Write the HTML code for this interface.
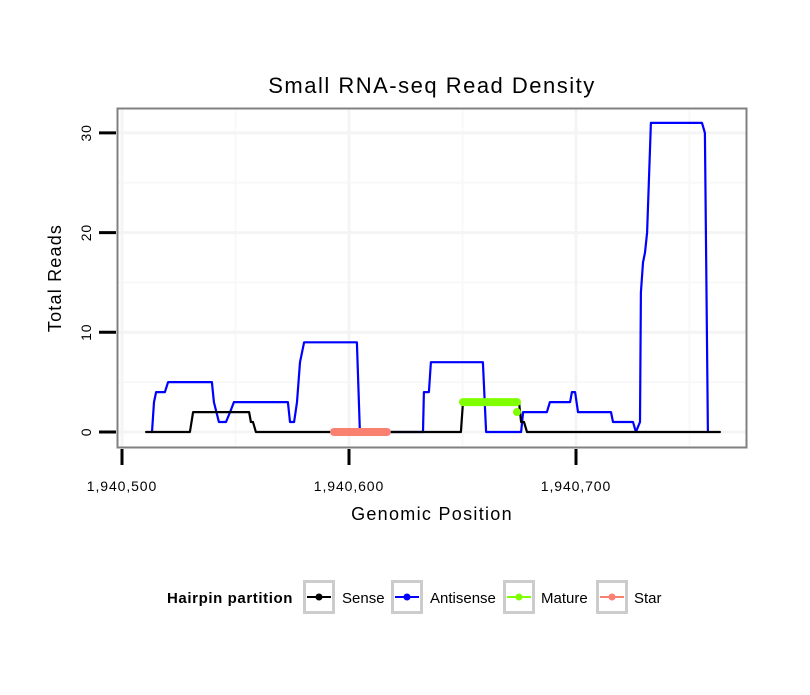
<!DOCTYPE html>
<html><head><meta charset="utf-8"><style>
body{margin:0;background:#fff;}
svg text{font-family:"Liberation Sans",sans-serif;}
</style></head><body>
<svg id="chart" width="810" height="690" xmlns="http://www.w3.org/2000/svg">
<rect width="810" height="690" fill="#fff"/>
<text x="432" y="93" font-size="22" letter-spacing="1.5" text-anchor="middle">Small RNA-seq Read Density</text>
<g id="grid"></g>
<g id="series"></g>
<rect x="117.5" y="108.5" width="629" height="339" fill="none" stroke="#808080" stroke-width="2"/>
<g id="axes"></g>
<text x="432" y="520" font-size="18" letter-spacing="1.3" text-anchor="middle">Genomic Position</text>
<text transform="translate(61,278) rotate(-90)" font-size="18" letter-spacing="1.2" text-anchor="middle">Total Reads</text>
<g>
<text x="167" y="603" font-size="15" letter-spacing="0.6" font-weight="bold">Hairpin partition</text>
<g><rect x="304.5" y="581.5" width="29" height="31" fill="#fff" stroke="#ccc" stroke-width="3"/><line x1="307" x2="331" y1="597" y2="597" stroke="#000" stroke-width="2"/><circle cx="319" cy="597" r="3.5" fill="#000"/><text x="342" y="603" font-size="15">Sense</text></g>
<g><rect x="392.5" y="581.5" width="29" height="31" fill="#fff" stroke="#ccc" stroke-width="3"/><line x1="395" x2="419" y1="597" y2="597" stroke="#0000ff" stroke-width="2"/><circle cx="407" cy="597" r="3.5" fill="#0000ff"/><text x="430" y="603" font-size="15">Antisense</text></g>
<g><rect x="504.5" y="581.5" width="29" height="31" fill="#fff" stroke="#ccc" stroke-width="3"/><line x1="507" x2="531" y1="597" y2="597" stroke="#7fff00" stroke-width="2"/><circle cx="519" cy="597" r="3.5" fill="#7fff00"/><text x="541" y="603" font-size="15">Mature</text></g>
<g><rect x="597.5" y="581.5" width="29" height="31" fill="#fff" stroke="#ccc" stroke-width="3"/><line x1="600" x2="624" y1="597" y2="597" stroke="#fa8072" stroke-width="2"/><circle cx="612" cy="597" r="3.5" fill="#fa8072"/><text x="634" y="603" font-size="15">Star</text></g>
</g>
</svg>
<script>
const xTicks = [1940500, 1940600, 1940700];
const xTickLabels = ["1,940,500", "1,940,600", "1,940,700"];
const yTicks = [0, 10, 20, 30];
const antisensePos = [1940513.2,1940514.1,1940515,1940518.9,1940520.3,1940539.6,1940540.5,1940542.7,1940545.8,1940547.6,1940549.3,1940573.1,1940574,1940575.8,1940577.1,1940578.4,1940580.2,1940603.5,1940604.8,1940632.6,1940633,1940635.2,1940636.1,1940659,1940660.4,1940675.8,1940676.7,1940687.2,1940688.5,1940697.4,1940698.2,1940699.6,1940700.9,1940715.4,1940716.3,1940725.1,1940726.4,1940728.2,1940728.6,1940729.5,1940730.4,1940731.3,1940733,1940755.5,1940756.8,1940758.1];
const antisenseVal = [0,3,4,4,5,5,3,1,1,2,3,3,1,1,3,7,9,9,0,0,4,4,7,7,0,0,2,2,3,3,4,4,2,2,1,1,0,1,14,17,18,20,31,31,30,0];
const sensePos = [1940510.6,1940529.9,1940531.3,1940556,1940556.8,1940557.7,1940559,1940649.3,1940650.2,1940674.9,1940675.8,1940677.1,1940678.4,1940763.4];
const senseVal = [0,0,2,2,1,1,0,0,3,3,1,1,0,0];
const maturePos = [1940650.2,1940674];
const matureVal = [3,3];
const matureDotPos = [1940674];
const matureDotVal = [2];
const starPos = [1940593.4,1940616.7];
const starVal = [0,0];

const NS="http://www.w3.org/2000/svg";
const xs = v => 122 + (v - 1940500) * 2.27;
const ys = v => 432 - v * 9.97;
function mk(tag, attrs, parent){const e=document.createElementNS(NS,tag);for(const k in attrs)e.setAttribute(k,attrs[k]);parent.appendChild(e);return e;}
const grid=document.getElementById('grid'), axes=document.getElementById('axes'), series=document.getElementById('series');
mk('rect',{x:118,y:109,width:628,height:338,fill:'#fff'},grid);
for(let i=0;i<xTicks.length;i++){const m=xTicks[i]+50;const l=mk('line',{x1:xs(m),x2:xs(m),y1:109,y2:447,stroke:'#f8f8f8','stroke-width':2},grid);

}
for(let i=0;i<yTicks.length-1;i++){const m=yTicks[i]+5;const l=mk('line',{x1:118,x2:746,y1:ys(m),y2:ys(m),stroke:'#f8f8f8','stroke-width':2},grid);

}
xTicks.forEach((t,i)=>{
const g=mk('line',{x1:xs(t),x2:xs(t),y1:109,y2:447,stroke:'#f4f4f4','stroke-width':3},grid);


const tk=mk('line',{x1:xs(t),x2:xs(t),y1:449,y2:465,stroke:'#000','stroke-width':3},axes);


const tx=mk('text',{x:xs(t),y:491,'font-size':14,'letter-spacing':0.9,'text-anchor':'middle'},axes);tx.textContent=xTickLabels[i];


});
yTicks.forEach(t=>{
const g=mk('line',{x1:118,x2:746,y1:ys(t),y2:ys(t),stroke:'#f4f4f4','stroke-width':3},grid);


const tk=mk('line',{x1:99,x2:116,y1:ys(t),y2:ys(t),stroke:'#000','stroke-width':3},axes);


const tx=mk('text',{transform:`translate(91,${ys(t)}) rotate(-90)`,'font-size':14,'letter-spacing':0.8,'text-anchor':'middle'},axes);tx.textContent=t;


});
function line(P,V,color,w,name){const d=P.map((p,i)=>(i?'L':'M')+xs(p).toFixed(1)+','+ys(V[i]).toFixed(1)).join(' ');
const e=mk('path',{d:d,fill:'none',stroke:color,'stroke-width':w,'stroke-linecap':'round','stroke-linejoin':'round'},series);

}
line(antisensePos,antisenseVal,'#0000ff',2.2,'antisense-line');
line(sensePos,senseVal,'#000',2.2,'sense-line');
line(maturePos,matureVal,'#7fff00',8,'mature-line');
line(starPos,starVal,'#fa8072',8,'star-line');
matureDotPos.forEach((p,i)=>{const c=mk('circle',{cx:xs(p),cy:ys(matureDotVal[i]),r:4,fill:'#7fff00'},series);

});
</script>
</body></html>
